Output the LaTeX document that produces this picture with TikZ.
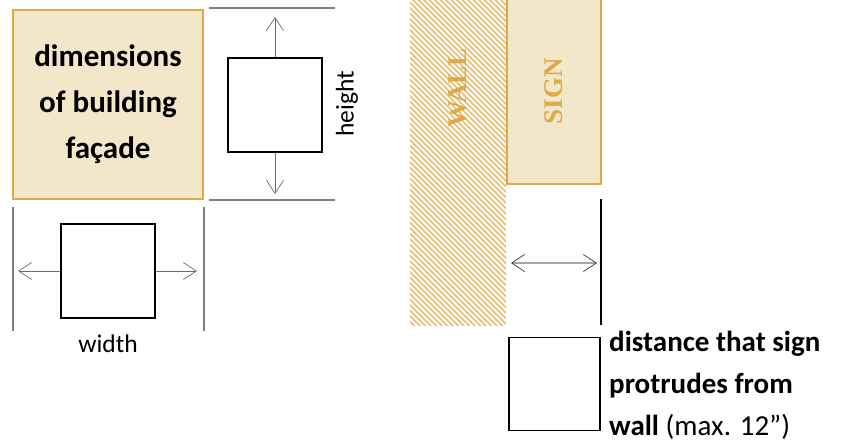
\documentclass[tikz,border=0pt]{standalone}
\usepackage{fontspec}
\setmainfont{Carlito}
\newfontfamily\wallfont{Liberation Serif}
\usetikzlibrary{arrows.meta}
\definecolor{gold}{RGB}{221,170,74}
\definecolor{cream}{RGB}{243,231,201}
\definecolor{hatch}{RGB}{230,190,115}
\definecolor{dimgray}{RGB}{128,128,128}

\begin{document}
\begin{tikzpicture}[x=1pt,y=1pt,yscale=-1,xscale=1,
  blank/.style={draw=black,line width=1.5pt,minimum size=94pt,inner sep=0pt},
  dimline/.style={draw=dimgray,line width=1.2pt},
  dimarrow/.style={draw=gray!85!black,line width=0.7pt,-{Straight Barb[length=13pt,width=17pt,line width=0.7pt]}},
  goldtext/.style={text=gold,rotate=90,font=\wallfont\bfseries\fontsize{27}{27}\selectfont}]
\useasboundingbox (0,0) rectangle (841,442);

%Wall hatching
\begin{scope}
\clip (410,0) rectangle (506,325);
\foreach \x in {-340,-334.5,...,515} {
  \draw [hatch,line width=1.6pt] (\x,-5) -- (\x+335,330);
}
\end{scope}
\node (wall) [goldtext] at (458,88) {WALL};

% Text Node
\node (facade) [draw=gold,fill=cream,line width=2pt,minimum width=190pt,minimum height=189pt,inner sep=0pt,align=center,font=\bfseries\fontsize{31}{46}\selectfont] at (108,104.5) {dimensions\\of building\\façade};
\node (sign) [draw=gold,fill=cream,line width=2pt,minimum width=94pt,minimum height=186pt,inner sep=0pt] at (554,91) {};
\node [goldtext] at (sign) {SIGN};

%Height
\coordinate (htl) at (209,8);
\coordinate (htr) at (335,8);
\coordinate (hbl) at (209,200);
\coordinate (hbr) at (335,200);
\draw [dimline] (htl) -- (htr);
\draw [dimline] (hbl) -- (hbr);
\node (hbox) [blank] at (275,105) {};
\coordinate (htip) at (275,17);
\coordinate (btip) at (275,194);
\draw [dimarrow] (hbox.north) -- (htip);
\draw [dimarrow] (hbox.south) -- (btip);
\node (height) [rotate=90,font=\fontsize{25.5}{25.5}\selectfont] at (347,104) {height};

%Width
\coordinate (wlt) at (13,207);
\coordinate (wlb) at (13,331);
\coordinate (wrt) at (204,207);
\coordinate (wrb) at (204,331);
\draw [dimline] (wlt) -- (wlb);
\draw [dimline] (wrt) -- (wrb);
\node (wbox) [blank] at (108,271) {};
\coordinate (ltip) at (18,271);
\coordinate (rtip) at (197,271);
\draw [dimarrow] (wbox.west) -- (ltip);
\draw [dimarrow] (wbox.east) -- (rtip);
\node (width) [font=\fontsize{25.5}{25.5}\selectfont] at (108,344) {width};

%Protrusion
\coordinate (st) at (601,199);
\coordinate (sb) at (601,325);
\draw [line width=1.3pt] (st) -- (sb);
\coordinate (pl) at (511,263);
\coordinate (pr) at (597,263);
\draw [dimarrow,draw=gray!70,line width=1.4pt,{Straight Barb[length=13pt,width=17pt,line width=0.7pt,color=gray!40!black]}-{Straight Barb[length=13pt,width=17pt,line width=0.7pt,color=gray!40!black]}] (pl) -- (pr);
\node (pbox) [blank,minimum width=91pt,minimum height=93pt] at (554.5,384) {};
\node (ptext) [anchor=north west,inner sep=0pt,align=left,font=\fontsize{29}{42}\selectfont] at (609,331) {\textbf{distance that sign}\\\textbf{protrudes from}\\\textbf{wall} (max. 12”)};

\end{tikzpicture}
\end{document}
